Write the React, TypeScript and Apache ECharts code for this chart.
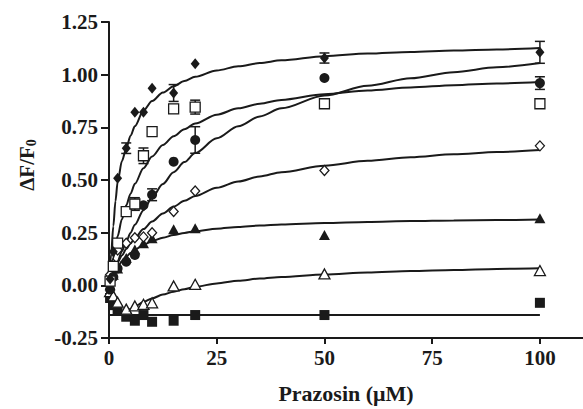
import React, { useEffect, useRef } from "react";
import * as echarts from "echarts";

// Concentrations (µM) shared by all data series
const xConc = [0.25, 1, 2, 4, 6, 8, 10, 15, 20, 50, 100];

// Data series (ΔF/F0)
const fdVals = [0.03, 0.16, 0.508, 0.651, 0.822, 0.822, 0.936, 0.913, 1.052, 1.079, 1.106]; // filled diamond
const osVals = [0.02, 0.09, 0.2, 0.35, 0.386, 0.615, 0.73, 0.838, 0.846, 0.862, 0.862]; // open square
const fcVals = [-0.02, 0.04, 0.08, 0.112, 0.144, 0.38, 0.43, 0.587, 0.69, 0.984, 0.96]; // filled circle
const odVals = [0.05, 0.1, 0.168, 0.2, 0.226, 0.23, 0.25, 0.35, 0.448, 0.545, 0.662]; // open diamond
const ftVals = [0.0, 0.05, 0.08, 0.13, 0.17, 0.2, 0.223, 0.266, 0.271, 0.239, 0.318]; // filled triangle
const otVals = [-0.03, -0.05, -0.08, -0.113, -0.098, -0.09, -0.083, -0.003, 0.005, 0.054, 0.07]; // open triangle
const fsVals = [-0.06, -0.094, -0.117, -0.149, -0.168, -0.141, -0.173, -0.168, -0.141, -0.141, -0.083]; // filled square

// Error (± SEM) per point, 0 = no visible bar
const fdErr = [0, 0, 0, 0.025, 0, 0, 0, 0.04, 0, 0.024, 0.052];
const osErr = [0, 0, 0, 0, 0.03, 0.037, 0, 0.02, 0.033, 0, 0];
const fcErr = [0, 0, 0, 0, 0, 0, 0.028, 0, 0.063, 0, 0.03];

// Fitted curves, values
const fitX = [0, 0.5, 1, 1.5, 2, 3, 4, 5, 6, 8, 10, 12.5, 15, 17.5, 20, 25, 30, 35, 40, 50, 60, 70, 80, 90, 100];
const fdFitY = [0, 0.15, 0.28, 0.4, 0.49, 0.59, 0.65, 0.71, 0.755, 0.83, 0.875, 0.915, 0.945, 0.97, 0.99, 1.02, 1.04, 1.055, 1.068, 1.088, 1.1, 1.108, 1.115, 1.12, 1.126];
const osFitY = [0, 0.07, 0.131, 0.185, 0.233, 0.314, 0.38, 0.435, 0.482, 0.556, 0.612, 0.666, 0.708, 0.741, 0.768, 0.81, 0.84, 0.862, 0.88, 0.907, 0.925, 0.939, 0.95, 0.958, 0.965];
const fcFitY = [0, 0.03, 0.059, 0.087, 0.113, 0.162, 0.207, 0.249, 0.288, 0.357, 0.417, 0.481, 0.537, 0.585, 0.628, 0.698, 0.755, 0.802, 0.84, 0.901, 0.947, 0.983, 1.012, 1.035, 1.055];
const odFitY = [0.03, 0.052, 0.072, 0.091, 0.109, 0.142, 0.172, 0.199, 0.224, 0.267, 0.303, 0.341, 0.374, 0.401, 0.424, 0.463, 0.493, 0.517, 0.537, 0.568, 0.591, 0.608, 0.622, 0.633, 0.642];
const ftFitY = [0, 0.027, 0.049, 0.069, 0.086, 0.114, 0.136, 0.154, 0.169, 0.192, 0.21, 0.226, 0.239, 0.249, 0.257, 0.269, 0.277, 0.284, 0.289, 0.296, 0.301, 0.305, 0.308, 0.31, 0.312];
const otFitX = [4, 5, 6, 8, 10, 12.5, 15, 17.5, 20, 25, 30, 35, 40, 50, 60, 70, 80, 90, 100];
const otFitY = [-0.125, -0.112, -0.1, -0.079, -0.062, -0.044, -0.03, -0.018, -0.007, 0.009, 0.022, 0.032, 0.04, 0.052, 0.061, 0.068, 0.073, 0.078, 0.081];
const fsFitX = [0, 100];
const fsFitY = [-0.141, -0.141];

// Axis ticks
const xTicks = [0, 25, 50, 75, 100];

const INK = "#1a1a1a";
const FONT = "Liberation Serif";

function pairs(xs: number[], ys: number[]) {
  return xs.map((x, i) => [x, ys[i]]);
}

function errRows(vals: number[], errs: number[]) {
  const rows: number[][] = [];
  xConc.forEach((x, i) => {
    if (errs[i] > 0) rows.push([x, vals[i] - errs[i], vals[i] + errs[i]]);
  });
  return rows;
}

export default function App() {
  const ref = useRef<HTMLDivElement>(null);
  useEffect(() => {
    if (!ref.current) return;
    const chart = echarts.init(ref.current, undefined, { renderer: "svg" });

    const fitSeries = (xs: number[], ys: number[]) => ({
      type: "line",
      data: pairs(xs, ys),
      smooth: 0.3,
      smoothMonotone: "x",
      showSymbol: false,
      symbol: "none",
      lineStyle: { color: INK, width: 2 },
      z: 2,
      silent: true,
    });

    const scatter = (vals: number[], symbol: string, size: any, open: boolean) => ({
      type: "scatter",
      data: pairs(xConc, vals),
      symbol,
      symbolSize: size,
      itemStyle: open
        ? { color: "#ffffff", borderColor: INK, borderWidth: 1.3, opacity: 1 }
        : { color: INK, borderWidth: 0, opacity: 1 },
      z: 5,
    });

    const errorSeries = (rows: number[][]) => ({
      type: "custom",
      data: rows,
      encode: { x: 0, y: [1, 2] },
      z: 3,
      renderItem: (params: any, api: any) => {
        const x = api.value(0);
        const lo = api.coord([x, api.value(1)]);
        const hi = api.coord([x, api.value(2)]);
        const w = 5;
        const st = { stroke: INK, lineWidth: 1.5 };
        return {
          type: "group",
          children: [
            { type: "line", shape: { x1: lo[0], y1: lo[1], x2: hi[0], y2: hi[1] }, style: st },
            { type: "line", shape: { x1: lo[0] - w, y1: lo[1], x2: lo[0] + w, y2: lo[1] }, style: st },
            { type: "line", shape: { x1: hi[0] - w, y1: hi[1], x2: hi[0] + w, y2: hi[1] }, style: st },
          ],
        };
      },
    });

    chart.setOption({
      animation: false,
      backgroundColor: "#ffffff",
      grid: { left: 109, right: -3, top: 22, bottom: 71 },
      xAxis: {
        type: "value",
        min: 0,
        max: 110,
        interval: 25,
        name: "Prazosin (μM)",
        nameLocation: "middle",
        nameGap: 44,
        nameTextStyle: { fontFamily: FONT, fontWeight: "bold", fontSize: 22, color: INK },
        axisLine: { show: true, onZero: false, lineStyle: { color: INK, width: 2 } },
        axisTick: { show: true, length: 6, customValues: xTicks, lineStyle: { color: INK, width: 2 } },
        axisLabel: {
          customValues: xTicks,
          margin: 9,
          fontFamily: FONT,
          fontWeight: "bold",
          fontSize: 21,
          color: INK,
        },
        splitLine: { show: false },
      },
      yAxis: {
        type: "value",
        min: -0.25,
        max: 1.25,
        interval: 0.25,
        axisLine: { show: true, onZero: false, lineStyle: { color: INK, width: 2 } },
        axisTick: { show: true, length: 8, lineStyle: { color: INK, width: 2 } },
        axisLabel: {
          margin: 11,
          fontFamily: FONT,
          fontWeight: "bold",
          fontSize: 21,
          color: INK,
          formatter: (v: number) => v.toFixed(2),
        },
        splitLine: { show: false },
      },
      graphic: [
        {
          type: "text",
          x: 27,
          y: 165,
          rotation: Math.PI / 2,
          style: {
            text: "ΔF/F{s|0}",
            fontFamily: FONT,
            fontWeight: "bold",
            fontSize: 21,
            fill: INK,
            align: "center",
            verticalAlign: "middle",
            rich: {
              s: { fontFamily: FONT, fontWeight: "bold", fontSize: 14, fill: INK, padding: [9, 0, 0, 0] },
            },
          },
        },
      ],
      series: [
        fitSeries(fitX, fdFitY),
        fitSeries(fitX, osFitY),
        fitSeries(fitX, fcFitY),
        fitSeries(fitX, odFitY),
        fitSeries(fitX, ftFitY),
        fitSeries(otFitX, otFitY),
        fitSeries(fsFitX, fsFitY),
        errorSeries(errRows(fdVals, fdErr)),
        errorSeries(errRows(osVals, osErr)),
        errorSeries(errRows(fcVals, fcErr)),
        scatter(fsVals, "rect", 10, false),
        scatter(otVals, "triangle", [11, 10], true),
        scatter(ftVals, "triangle", [11, 10], false),
        scatter(odVals, "diamond", [9, 10], true),
        scatter(fcVals, "circle", 10, false),
        scatter(osVals, "rect", 10, true),
        scatter(fdVals, "diamond", [9, 11], false),
      ],
    });

    return () => chart.dispose();
  }, []);

  return (
    <div
      ref={ref}
      style={{ position: "absolute", left: 0, top: 0, width: 583, height: 409, background: "#fff" }}
    />
  );
}
